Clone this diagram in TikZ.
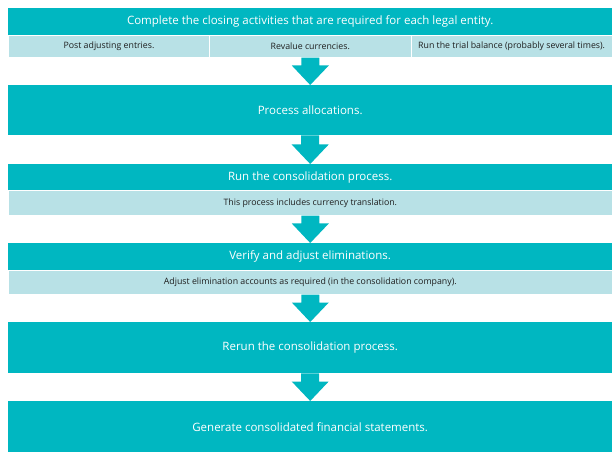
\documentclass[tikz,border=0pt]{standalone}
\usepackage{fontspec}
\setmainfont{Open Sans}
\usetikzlibrary{calc}
\definecolor{teal1}{HTML}{00B7C1}
\definecolor{light1}{HTML}{B8E1E6}
\definecolor{subtxt}{HTML}{1E1E1E}
\tikzset{
  hdr/.style={rectangle, fill=teal1, inner sep=0pt, anchor=north west, minimum width=604pt,
    text=white, font=\fontsize{11.5}{14}\selectfont},
  subrow/.style={rectangle, fill=light1, draw=white, line width=0.6pt, inner sep=0pt, anchor=north west,
    text=subtxt, font=\fontsize{8.8}{11}\selectfont},
  arr/.style={fill=teal1, draw=none},
}
\newcommand{\flowarrow}[2]{%
  \fill[arr] let \p1=(#1.south), \p2=(#2.north) in
    (\x1-9pt,\y1) -- (\x1+9pt,\y1) -- (\x1+9pt,\y2+19.5pt) -- (\x1+18.5pt,\y2+19.5pt)
    -- (\x2,\y2) -- (\x1-18.5pt,\y2+19.5pt) -- (\x1-9pt,\y2+19.5pt) -- cycle;}
\begin{document}
\begin{tikzpicture}[x=1pt,y=-1pt]
\useasboundingbox[fill=white] (0,0) rectangle (616,457);
% box 1
\node[hdr, minimum height=27pt] (h1) at (8,8) {Complete the closing activities that are required for each legal entity.};
\node[subrow, minimum width=201.33pt, minimum height=22pt] (s1a) at (8,35) {Post adjusting entries.};
\node[subrow, minimum width=201.33pt, minimum height=22pt] (s1b) at (209.33,35) {Revalue currencies.};
\node[subrow, minimum width=201.33pt, minimum height=22pt] (s1c) at (410.67,35) {Run the trial balance (probably several times).};
% box 2
\node[hdr, minimum height=50pt] (h2) at (8,85) {Process allocations.};
% box 3
\node[hdr, minimum height=26pt] (h3) at (8,164) {Run the consolidation process.};
\node[subrow, minimum width=604pt, minimum height=25pt] (s3) at (8,190) {This process includes currency translation.};
% box 4
\node[hdr, minimum height=27pt] (h4) at (8,243) {Verify and adjust eliminations.};
\node[subrow, minimum width=604pt, minimum height=24pt] (s4) at (8,270) {Adjust elimination accounts as required (in the consolidation company).};
% box 5
\node[hdr, minimum height=51pt] (h5) at (8,322) {Rerun the consolidation process.};
% box 6
\node[hdr, minimum height=51pt] (h6) at (8,401) {Generate consolidated financial statements.};
% arrows
\coordinate (a1) at ($(s1b.south)$);
\flowarrow{a1}{h2}
\flowarrow{h2}{h3}
\flowarrow{s3}{h4}
\flowarrow{s4}{h5}
\flowarrow{h5}{h6}
\end{tikzpicture}
\end{document}
